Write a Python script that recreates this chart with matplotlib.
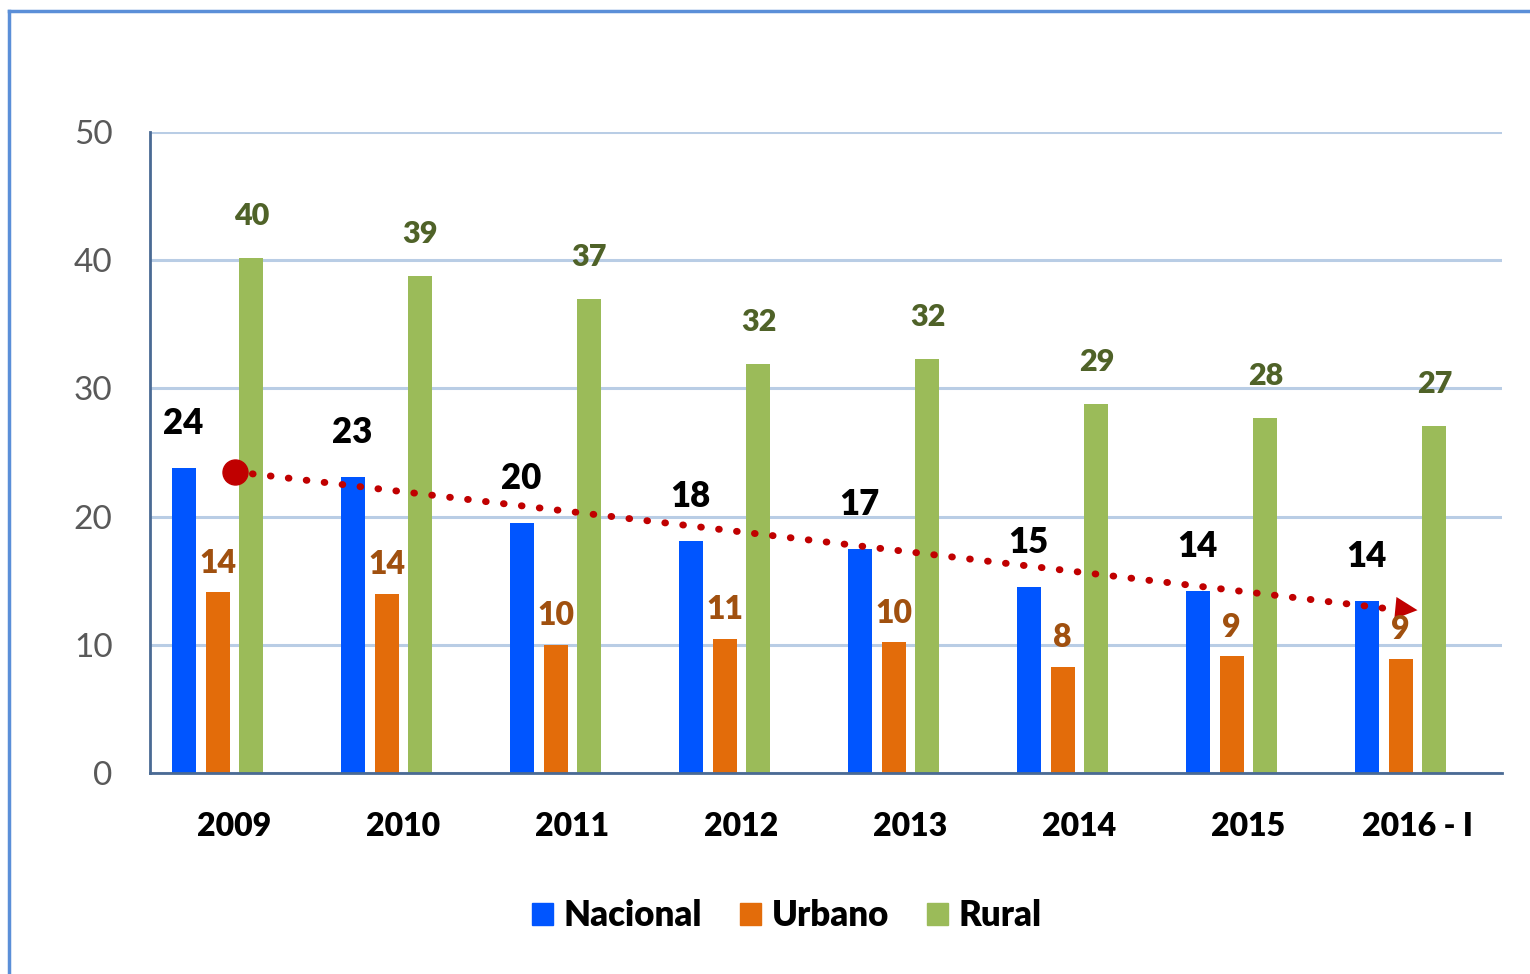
import matplotlib.pyplot as plt
import numpy as np
from matplotlib.patches import Patch

years = ["2009", "2010", "2011", "2012", "2013", "2014", "2015", "2016 - I"]
nacional = [23.8, 23.1, 19.5, 18.1, 17.5, 14.5, 14.2, 13.4]
urbano = [14.1, 14.0, 10.0, 10.45, 10.2, 8.3, 9.1, 8.9]
rural = [40.2, 38.8, 37.0, 31.9, 32.3, 28.8, 27.7, 27.1]
lab_nacional = ["24", "23", "20", "18", "17", "15", "14", "14"]
lab_urbano = ["14", "14", "10", "11", "10", "8", "9", "9"]
lab_rural = ["40", "39", "37", "32", "32", "29", "28", "27"]
trend = [23.5, 12.7]

plt.rcParams['font.family'] = ['Lato', 'DejaVu Sans']
bold = "heavy"

fig = plt.figure(figsize=(15.3, 9.74), dpi=100)
ax = fig.add_axes([150 / 1530, 1 - 773 / 974, 1352 / 1530, 641 / 974])

x = np.arange(len(years))
step = 0.201
w = 0.142
c_nac, c_urb, c_rur = "#0055FF", "#E36C0A", "#9BBB59"
ax.bar(x - 1.5 * step, nacional, w, color=c_nac, zorder=3)
ax.bar(x - 0.5 * step, urbano, w, color=c_urb, zorder=3)
ax.bar(x + 0.5 * step, rural, w, color=c_rur, zorder=3)

for i in range(len(years)):
    ax.annotate(lab_nacional[i], (x[i] - 1.5 * step, nacional[i]), xytext=(0, 32),
                textcoords="offset points", ha="center", va="center",
                fontsize=25, fontweight=bold, color="black", zorder=5)
    ax.annotate(lab_urbano[i], (x[i] - 0.5 * step, urbano[i]), xytext=(0, 21),
                textcoords="offset points", ha="center", va="center",
                fontsize=23, fontweight=bold, color="#A0500F", zorder=5)
    ax.annotate(lab_rural[i], (x[i] + 0.5 * step, rural[i]), xytext=(0, 30),
                textcoords="offset points", ha="center", va="center",
                fontsize=22, fontweight=bold, color="#4F6228", zorder=5)

# trend arrow
ax.plot([x[0], x[-1] - 0.1], trend, color="#C00000", linestyle=(0, (0.1, 2.5)),
        linewidth=5, dash_capstyle="round", zorder=4)
ax.plot(x[0], trend[0], "o", color="#C00000", markersize=18, zorder=4)
ax.annotate("", xy=(x[-1], trend[1]), xytext=(x[-1] - 0.14, trend[1] + 0.18),
            arrowprops=dict(arrowstyle="-|>,head_length=1.6,head_width=0.8",
                            color="#C00000", lw=0, shrinkA=0, shrinkB=0), zorder=4)

ax.set_xlim(-0.5, len(years) - 0.5)
ax.set_ylim(0, 50)
ax.set_yticks(range(0, 51, 10))
ax.set_xticks(x)
ax.set_xticklabels(years, fontsize=23, fontweight=bold)
ax.tick_params(axis="y", length=0, pad=27, labelsize=24, labelcolor="#595959")
ax.tick_params(axis="x", length=0, pad=28)
ax.grid(axis="y", color="#B9CDE5", linewidth=2.2, zorder=0)
for s in ["top", "right"]:
    ax.spines[s].set_visible(False)
for s in ["left", "bottom"]:
    ax.spines[s].set_color("#4A6A94")
    ax.spines[s].set_linewidth(2)
    ax.spines[s].set_zorder(4)

handles = [Patch(color=c_nac, label="Nacional"), Patch(color=c_urb, label="Urbano"),
           Patch(color=c_rur, label="Rural")]
fig.legend(handles=handles, loc="center", bbox_to_anchor=(787 / 1530, 1 - 916 / 974),
           ncol=3, frameon=False, prop=dict(size=25, weight=bold),
           handlelength=0.6, handleheight=0.6, handletextpad=0.3, columnspacing=1.1)

# outer frame
fig.add_artist(plt.Line2D([9 / 1530, 9 / 1530], [0, 1 - 11 / 974], color="#5B8FD8",
                          linewidth=2.5, transform=fig.transFigure))
fig.add_artist(plt.Line2D([9 / 1530, 1], [1 - 11 / 974, 1 - 11 / 974], color="#5B8FD8",
                          linewidth=2.5, transform=fig.transFigure))

fig.savefig("out.png", dpi=100)
